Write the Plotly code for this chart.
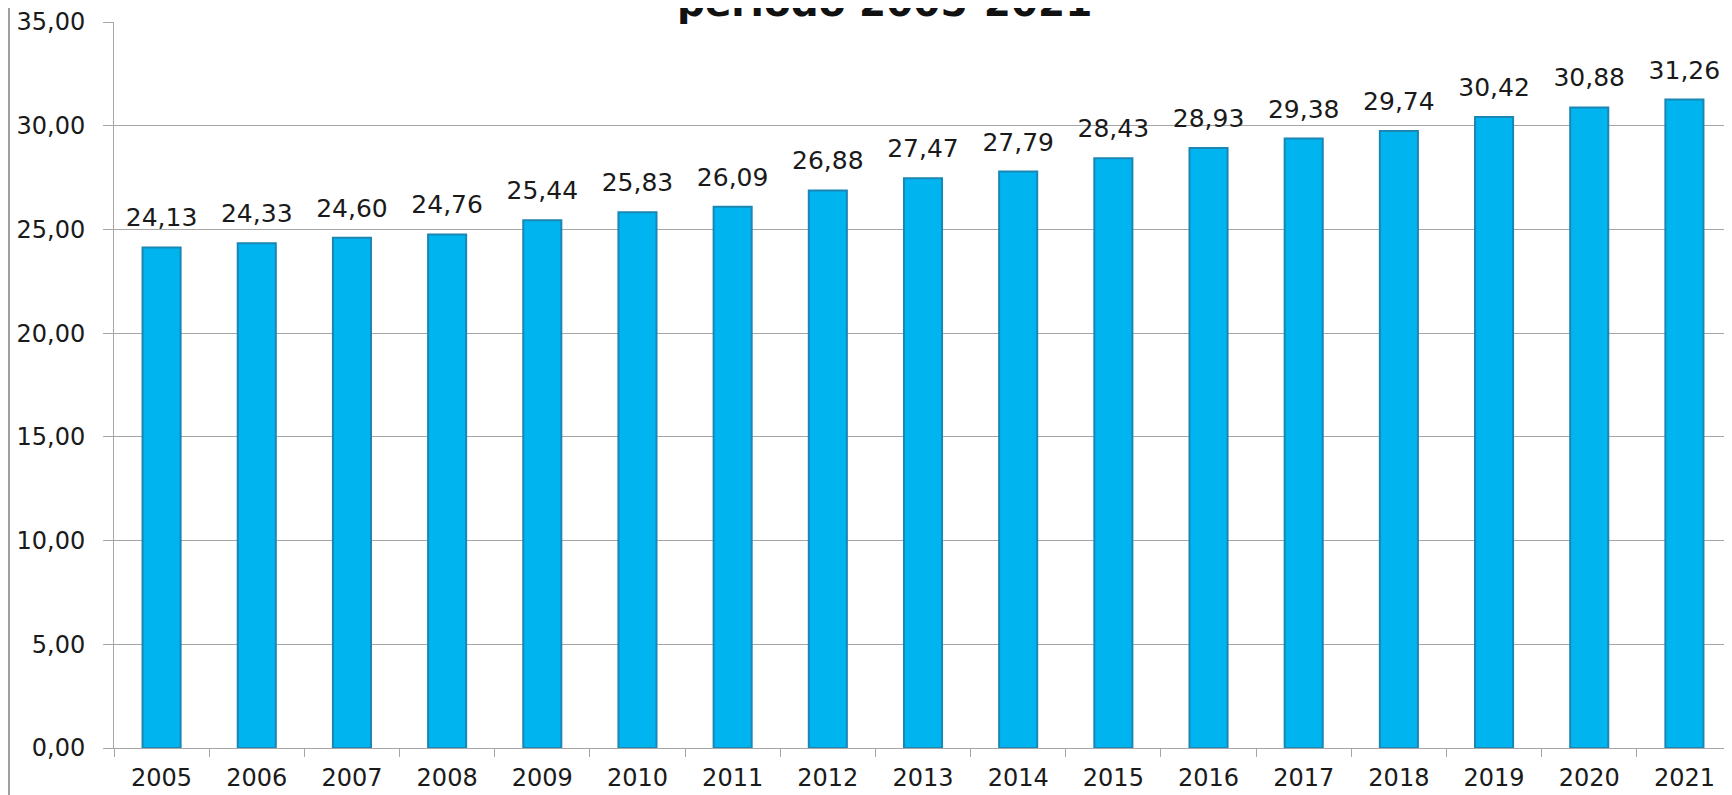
import plotly.graph_objects as go

years = ["2005", "2006", "2007", "2008", "2009", "2010", "2011", "2012", "2013",
         "2014", "2015", "2016", "2017", "2018", "2019", "2020", "2021"]
values = [24.13, 24.33, 24.60, 24.76, 25.44, 25.83, 26.09, 26.88, 27.47,
          27.79, 28.43, 28.93, 29.38, 29.74, 30.42, 30.88, 31.26]
title_text = "período 2005-2021"

# page has an 8px body margin, so the figure is laid out 8px in from the window edge
W, H = 1724, 787
ML, MR, MT, MB = 106, 0, 14, 47
PW, PH = W - ML - MR, H - MT - MB
FONT = "DejaVu Sans"
GRID = "#a6a6a6"

labels = [f"{v:.2f}".replace(".", ",") for v in values]

fig = go.Figure()
fig.add_trace(go.Bar(
    x=years, y=values, width=0.4,
    marker=dict(color="#00b4f0", line=dict(color="#1a86b4", width=2)),
    hoverinfo="x+y",
))
fig.add_trace(go.Scatter(
    x=years, y=values, mode="markers+text", text=labels, textposition="top center",
    marker=dict(size=22, color="rgba(0,0,0,0)"),
    textfont=dict(family=FONT, size=25, color="#1a1a1a"),
    hoverinfo="skip", cliponaxis=False,
))

fig.add_annotation(
    text=f"<b>{title_text}</b>", xref="paper", yref="paper",
    x=(876 - ML) / PW, y=1 + (MT + 5) / PH, xanchor="center", yanchor="middle",
    showarrow=False, font=dict(family=FONT, size=39, color="#111111"),
)

fig.update_layout(
    width=W, height=H,
    margin=dict(l=ML, r=MR, t=MT, b=MB, autoexpand=False),
    paper_bgcolor="white", plot_bgcolor="white",
    separators=",.",
    showlegend=False,
    font=dict(family=FONT, size=23, color="#1a1a1a"),
    xaxis=dict(type="category", range=[-0.5, len(years) - 0.5], autorange=False,
               automargin=False,
               showgrid=False, showline=True, linecolor=GRID,
               linewidth=1, ticks="outside", tickson="boundaries", ticklen=8,
               tickcolor=GRID, ticklabelstandoff=8, tickangle=0,
               tickfont=dict(family=FONT, size=24, color="#1a1a1a")),
    yaxis=dict(range=[0, 35], dtick=5, tickformat=".2f", showgrid=True,
               automargin=False,
               gridcolor=GRID, gridwidth=1, showline=True, linecolor=GRID,
               linewidth=1, ticks="outside", ticklen=10, tickcolor=GRID,
               ticklabelstandoff=13, zeroline=False,
               tickfont=dict(family=FONT, size=24, color="#1a1a1a")),
    shapes=[dict(type="line", xref="paper", yref="paper",
                 x0=-(ML - 1) / PW, x1=-(ML - 1) / PW,
                 y0=-MB / PH, y1=1 + MT / PH,
                 line=dict(color="#a0a0a0", width=2))],
)

fig.write_html("out.html")
